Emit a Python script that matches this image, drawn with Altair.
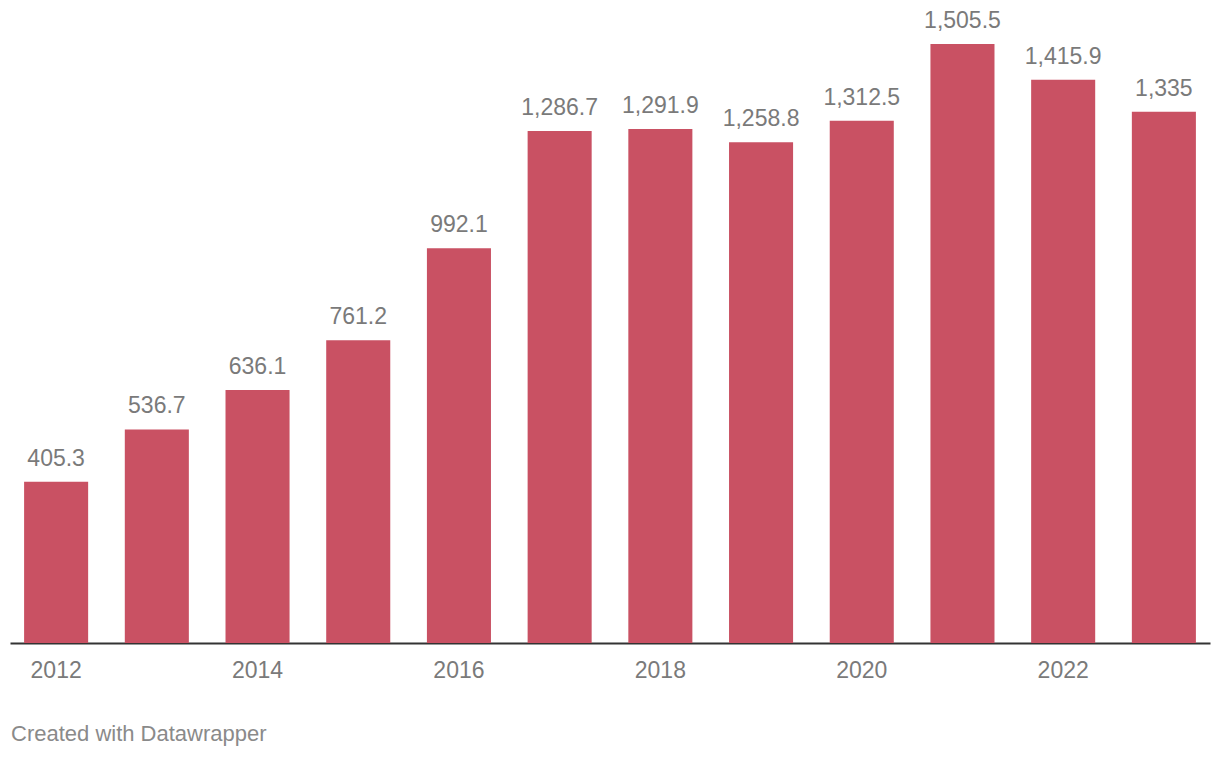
import altair as alt
import pandas as pd

years = ["2012", "2013", "2014", "2015", "2016", "2017", "2018", "2019", "2020", "2021", "2022", "2023"]
values = [405.3, 536.7, 636.1, 761.2, 992.1, 1286.7, 1291.9, 1258.8, 1312.5, 1505.5, 1415.9, 1335.0]
shown_ticks = ["2012", "2014", "2016", "2018", "2020", "2022"]

df = pd.DataFrame({"year": years, "value": values})

FONT = "Liberation Sans"
BAR = "#c95163"
GRAY = "#7a7a7a"

x = alt.X("year:N", sort=years, title=None,
          scale=alt.Scale(paddingInner=0.364, paddingOuter=0.14),
          axis=alt.Axis(values=shown_ticks, labelAngle=0, ticks=False, domain=True,
                        domainColor="#333333", domainWidth=2, labelColor=GRAY,
                        labelFontSize=23, labelFont=FONT, labelPadding=16, grid=False))
y = alt.Y("value:Q", scale=alt.Scale(domain=[0, 1505.5], nice=False, zero=True), axis=None)

bars = alt.Chart(df).mark_bar(color=BAR).encode(x=x, y=y)
labels = alt.Chart(df).mark_text(baseline="alphabetic", dy=-16, fontSize=23, font=FONT,
                                 color=GRAY).encode(
    x=alt.X("year:N", sort=years), y=y, text=alt.Text("value:Q", format=",.1~f"))

footer = alt.Chart(pd.DataFrame({"t": ["Created with Datawrapper"]})).mark_text(
    align="left", baseline="alphabetic", fontSize=22, font=FONT, color="#8a8a8a"
).encode(x=alt.value(1), y=alt.value(697), text="t:N")

chart = alt.layer(bars, labels, footer).properties(
    width=1200, height=599, autosize="none",
    padding={"left": 2, "top": 36, "right": 2, "bottom": 110}
).configure(background="white").configure_view(stroke=None)

chart.save("out.html", embed_options={"renderer": "svg", "actions": False})
